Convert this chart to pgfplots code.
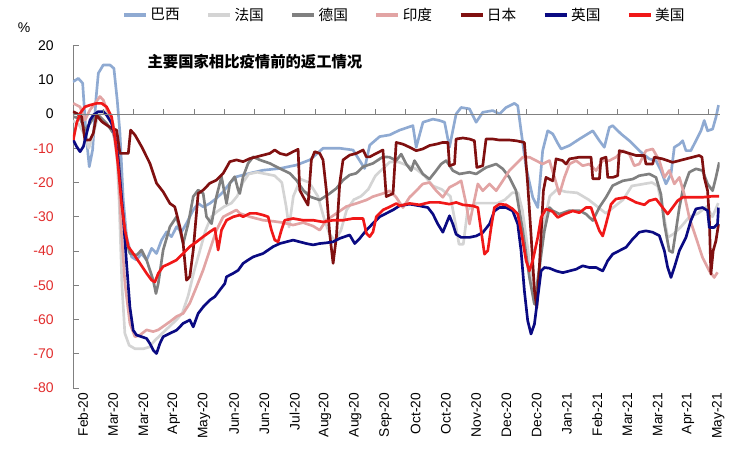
\documentclass[border=0pt]{standalone}
\usepackage{pgfplots}
\pgfplotsset{compat=1.18}
\usepackage{fontspec}
\setmainfont{Liberation Sans}
\newfontfamily\cjk{Noto Sans CJK SC}
\definecolor{cBR}{RGB}{143,170,210}
\definecolor{cFR}{RGB}{212,212,212}
\definecolor{cDE}{RGB}{128,128,128}
\definecolor{cIN}{RGB}{226,164,164}
\definecolor{cJP}{RGB}{128,16,16}
\definecolor{cUK}{RGB}{10,10,130}
\definecolor{cUS}{RGB}{240,24,24}
\definecolor{tickred}{RGB}{225,45,45}
\begin{document}
\begin{tikzpicture}
\begin{axis}[
  scale only axis, width=485pt, height=257pt,
  xmin=0, xmax=449, ymin=-80, ymax=20,
  axis y line*=left, axis x line*=bottom,
  x axis line style={draw=none},
  y axis line style={draw=gray, line width=0.6pt},
  tick align=inside, major tick length=4.5pt,
  ytick={-80,-70,-60,-50,-40,-30,-20,-10,0,10,20},
  yticklabels={{\textcolor{tickred}{-80}},{\textcolor{tickred}{-70}},{\textcolor{tickred}{-60}},{\textcolor{tickred}{-50}},{\textcolor{tickred}{-40}},{\textcolor{tickred}{-30}},{\textcolor{tickred}{-20}},{\textcolor{tickred}{-10}},0,10,20},
  ytick style={draw=gray, line width=0.6pt},
  yticklabel style={font=\fontsize{10.5}{12}\selectfont, xshift=-11pt},
  xtick={0,21,42,63,84,105,126,147,168,189,210,231,252,273,294,315,336,357,378,399,420,441},
  xticklabels={Feb-20,Mar-20,Mar-20,Apr-20,May-20,Jun-20,Jun-20,Jul-20,Aug-20,Aug-20,Sep-20,Oct-20,Oct-20,Nov-20,Dec-20,Dec-20,Jan-21,Feb-21,Mar-21,Mar-21,Apr-21,May-21},
  xtick style={draw=none},
  xticklabel style={rotate=90, anchor=east, font=\fontsize{10.3}{11}\selectfont, yshift=-7.5pt},
  /pgf/number format/assume math mode=true,
  every axis plot/.append style={line width=2pt, line join=round},
  legend columns=7,
  legend style={draw=none, fill=none, at={(axis description cs:0.0758,1.089)}, anchor=west,
    font=\cjk\fontsize{11}{12}\selectfont, inner sep=0pt,
    /tikz/every even column/.append style={column sep=18pt}},
  legend image code/.code={\draw[#1, line width=2.6pt] (0pt,0pt) -- (16.5pt,0pt);},
]
\addplot[cBR] coordinates {(0,9.4)(3.7,10.4)(6.7,9)(9,-5.6)(11.3,-15.4)(13.6,-10.5)(15.9,4.1)(17.6,11.9)(21,14.3)(25.7,14.3)(28.4,13.3)(30.7,4.1)(32.6,-5.6)(34.9,-25.1)(37.2,-35.8)(40.7,-41.7)(44.1,-42.6)(47.6,-40.7)(51.1,-42.6)(54.6,-39.2)(58,-40.7)(61.5,-36.8)(65,-34.4)(68.4,-35.8)(71.9,-32.9)(75.4,-34.4)(78.8,-31.9)(83.5,-28)(86.9,-26.1)(90.4,-27.1)(95,-26.1)(99.6,-24.6)(104.3,-22.7)(108.9,-20.2)(113.5,-18.3)(122.8,-17.3)(132,-16.4)(143.6,-15.9)(155.1,-14.9)(164.4,-13.4)(173.6,-10)(185.2,-10)(194.4,-10.5)(202.5,-15.9)(206,-9.1)(212.9,-6.6)(219.9,-6.1)(226.8,-4.7)(229,-4.4)(236,-3.4)(238.3,-9.7)(243,-2.4)(249.9,-1.5)(254.5,-1.9)(258,-2.4)(261.4,-9.7)(266,0)(269.5,1.9)(275.3,1.5)(279.9,-2.4)(284.5,0.5)(291.5,1)(296.1,0)(300.7,1.9)(306.5,3.1)(308.8,2.4)(311.1,-4.9)(314.6,-15.6)(319.2,-24.3)(322.7,-27.3)(326.1,-10.7)(329.6,-4.9)(333.1,-5.8)(336.5,-8.5)(338.9,-10.2)(344.7,-9.2)(351.6,-7.3)(360.9,-4.9)(365.5,-7.8)(368.9,-9.7)(372.4,-3.9)(374.7,-3.4)(380.5,-5.8)(386.3,-7.8)(393.2,-10.7)(400.1,-13.1)(404.8,-13.6)(408.2,-16.5)(411.7,-20.4)(415.2,-17.5)(417.5,-9.7)(421,-8.8)(423.3,-7.8)(425.6,-10.7)(429,-10.7)(432.5,-7.8)(436,-4.9)(438.3,-1.9)(440.6,-4.9)(444.1,-4.4)(446.4,-1)(448.2,2.6)};
\addlegendentry{巴西}
\addplot[cFR] coordinates {(0,-2)(4,-3)(8,-6)(11,-10)(14,-6)(17,-1)(21,1)(25,0)(28,-3)(30,-8)(32,-25)(34,-50)(36,-64)(39,-67.5)(43,-68.5)(49,-68.5)(53,-68)(57,-66)(62,-64)(67,-62)(72,-60)(76,-58)(80,-53)(84,-46)(88,-40)(92,-34)(96,-30)(100,-28.5)(105,-27)(110,-26)(114,-24)(118,-20)(122,-17.5)(128,-17)(134,-17.5)(140,-18)(145,-20)(148,-27)(150,-33)(153,-24)(158,-19)(164,-20)(170,-24)(174,-30)(178,-35)(182,-37)(186,-34)(190,-28)(195,-25)(200,-24)(205,-22)(210,-18)(215,-16)(220,-14)(226,-14)(232,-15)(238,-16)(244,-18)(250,-21)(256,-22)(262,-24)(266,-33)(268,-38)(271,-38)(274,-28)(280,-26)(288,-26)(295,-26)(300,-25)(305,-23)(309,-23)(312,-28)(316,-40)(320,-55)(323,-50)(327,-32)(331,-24)(336,-22)(342,-22.7)(350,-23)(358,-25)(364,-27)(370,-29)(376,-27)(382,-25)(388,-21)(395,-20.5)(402,-20)(406,-21)(409,-27)(413,-36)(417,-35)(422,-33)(428,-30)(434,-29)(440,-27)(444,-30)(448,-26)};
\addlegendentry{法国}
\addplot[cDE] coordinates {(0.2,-0.8)(4.9,-1.3)(8.3,-4.7)(11.8,-2.7)(15.3,-0.3)(18.7,-0.8)(23.3,-2.7)(28,-5.6)(31.4,-11.5)(33.7,-25.1)(36.1,-35.8)(39.5,-40.7)(44.1,-41.2)(47.6,-39.7)(51.1,-42.6)(55.7,-48.5)(57.6,-52.4)(59.2,-49.5)(62.6,-39.7)(67.3,-32.9)(71.9,-30)(76.5,-37.8)(80,-32)(83.5,-24.1)(86.9,-22.2)(90.4,-23.2)(92.7,-30)(96.2,-32)(99.6,-24.1)(103.1,-18.3)(106.6,-26.1)(108.9,-20.2)(112.3,-18.3)(114.7,-22.2)(115.8,-23.2)(118.1,-18.3)(121.6,-14.4)(125.1,-12.5)(129.7,-13.4)(136.6,-14.4)(143.6,-15.9)(150.5,-17.3)(155.1,-19.3)(159.8,-22.2)(164.4,-24.1)(171.3,-25.1)(178.2,-23.2)(182.9,-21.7)(187.5,-19.3)(192.1,-17.8)(196.7,-17.3)(201.4,-15.4)(208.3,-14.4)(215.2,-12.5)(219.8,-12.6)(224.4,-13.6)(227.9,-11.7)(231.4,-14.6)(234.8,-16.5)(237.1,-13.6)(242.9,-17.5)(247.5,-19)(252.2,-16.5)(255.6,-14.6)(259.1,-13.6)(263.7,-16.5)(268.3,-17.5)(275.3,-17)(279.9,-17.5)(286.8,-15.6)(293.8,-14.6)(298.4,-16)(303,-18.5)(307.6,-22.4)(312.3,-34.1)(316.9,-47.7)(320.4,-55.5)(323.8,-44.8)(327.3,-34.1)(330.8,-27.3)(333.1,-28.2)(337.7,-29.2)(344.7,-28.2)(351.6,-28.2)(356.2,-29.2)(360.9,-31.1)(365.5,-27.2)(370.1,-24.3)(374.7,-20.9)(381.7,-19.5)(388.6,-19)(393.2,-18)(400.1,-17.5)(404.8,-18.5)(408.2,-23.4)(410.6,-32.1)(414,-39.9)(416.3,-40.4)(418.6,-34.1)(421,-27.3)(423.3,-22.4)(427.9,-17)(432.5,-16)(437.1,-16.5)(440.6,-20.4)(444.1,-22.4)(446.4,-18.5)(448.7,-14.1)};
\addlegendentry{德国}
\addplot[cIN] coordinates {(0.2,3.1)(4.9,2.1)(8.3,-1.8)(11.8,1.2)(15.3,3.1)(18.7,5.1)(21,4.1)(24.5,0.2)(28,-4.7)(31.4,-15.4)(33.7,-34.8)(36.1,-49.5)(39.5,-61.1)(43,-65)(46.5,-64.5)(51.1,-63)(55.7,-63.5)(59.2,-63)(62.6,-62)(67.3,-60.6)(71.9,-59.1)(76.5,-58.2)(81.1,-55.2)(85.8,-50.4)(90.4,-45.5)(95,-39.7)(99.6,-33.9)(104.3,-30)(108.9,-29)(113.5,-28)(115.8,-29)(122.8,-30)(132,-31)(139,-31.3)(145.9,-31.7)(152.8,-32.4)(159.8,-31.7)(166.7,-32.7)(171.3,-33.9)(175.9,-31)(182.9,-29)(189.8,-27)(196.7,-26.1)(203.7,-25.1)(208.3,-24.1)(215.2,-23.2)(219.8,-22.4)(224.4,-24.3)(229.1,-27.3)(233.7,-24.3)(238.3,-22.4)(242.9,-20.4)(247.5,-20)(252.2,-22.4)(256.8,-24.3)(261.4,-21.4)(266,-20.4)(269.5,-19.5)(273,-26.3)(275.3,-32.1)(277.6,-27.3)(281.1,-20.4)(284.5,-22.4)(289.2,-20.4)(293.8,-22.4)(298.4,-19.5)(303,-16.5)(307.6,-14.6)(312.3,-12.6)(316.9,-12.6)(321.5,-13.6)(326.1,-14.6)(330.8,-13.6)(334.3,-18.5)(337.7,-23.4)(341.2,-18.5)(344.7,-14.6)(349.3,-13.6)(353.9,-15.1)(358.5,-14.6)(363.2,-16.5)(367.8,-13.6)(372.4,-13.6)(377,-12.6)(381.7,-10.7)(386.3,-11.7)(389.7,-15.1)(393.2,-14.6)(397.8,-10.7)(402.5,-10.2)(407.1,-13.6)(410.6,-18.5)(414,-16.5)(417.5,-20.4)(421,-18.5)(424.4,-23.4)(427.9,-30.2)(432.5,-36)(437.1,-41.9)(441.8,-45.8)(445.2,-47.7)(447.5,-46.2)};
\addlegendentry{印度}
\addplot[cJP] coordinates {(0,0.7)(2.5,0.2)(6,-0.8)(8.3,-7.6)(11.8,-7.6)(14.1,-5.6)(16.4,-0.3)(19.9,-2.2)(23.3,-3.2)(26.8,-4.2)(30.3,-4.7)(32.6,-11.5)(38.4,-11.5)(40,-4.7)(43,-6.1)(47.6,-9.5)(53.4,-14.4)(58,-20.2)(62.6,-22.7)(67.3,-26.1)(70.7,-27.1)(74.2,-32.9)(76.5,-37.8)(78.8,-48.5)(81.1,-47.5)(83.5,-39.7)(86.9,-23.2)(90.4,-22.2)(95,-20.2)(99.6,-19.3)(104.3,-17.3)(108.9,-13.9)(113.5,-13.4)(118.1,-13.9)(122.8,-13)(127.4,-12.5)(132,-12)(136.6,-11.5)(140.1,-10.5)(143.6,-11.5)(148.2,-12)(152.8,-11)(156.3,-10.3)(157.4,-22.2)(159.8,-24.1)(163.2,-26.6)(165.5,-13.4)(167.8,-11)(171.3,-11.5)(173.6,-13.4)(175.9,-22.2)(178.2,-34.8)(180.6,-43.6)(182.9,-35.8)(185.2,-20.2)(187.5,-13.4)(192.1,-12)(196.7,-11.5)(201.4,-10.5)(203.7,-12.5)(206,-12.5)(210.6,-11.5)(215.2,-10.5)(217.5,-24.1)(222.2,-23.2)(224.4,-8.3)(229.1,-8.8)(233.7,-9.7)(238.3,-10.7)(242.9,-10.2)(247.5,-9.2)(252.2,-8.8)(256.8,-8.3)(260.3,-8.3)(261.4,-15.1)(264.9,-14.6)(266,-7.3)(270.7,-7)(275.3,-7.3)(278.7,-7.8)(280.4,-15.6)(284.5,-15.1)(286.8,-7.3)(291.5,-7.3)(296.1,-7.6)(303,-7.6)(307.6,-7.8)(313.4,-8.3)(315.7,-20.4)(318,-35)(320.4,-51.6)(322,-56.5)(323.8,-44.8)(326.6,-22.4)(328.4,-18.5)(333.1,-19.5)(335.4,-13.1)(340,-13.6)(342.4,-14.6)(344.7,-13.1)(351.6,-12.6)(356.2,-12.6)(359.7,-12.6)(360.9,-18.9)(365.5,-18.9)(366.6,-13.1)(370.1,-12.6)(371.3,-18.5)(374.7,-18.5)(378.2,-18)(379.3,-10.7)(384,-11.2)(390.9,-12.1)(396.7,-12.1)(397.8,-14.6)(402.5,-14.6)(403.6,-12.6)(409.4,-13.1)(416.3,-14.1)(421,-13.6)(425.6,-13.1)(430.2,-12.6)(434.8,-12.1)(436.7,-12.6)(438.3,-18.5)(440.6,-22.4)(441.8,-30.2)(442.9,-46.7)(444.5,-39.9)(446.4,-37)(448.2,-32.1)};
\addlegendentry{日本}
\addplot[cUK] coordinates {(0.2,-7.6)(2.5,-9.5)(4.9,-11)(7.2,-9.5)(9.5,-5.6)(11.8,-1.8)(14.1,-0.3)(17.6,0.7)(21,0.7)(23.3,-0.3)(26.8,-2.7)(29.1,-6.6)(31.4,-13.4)(34.9,-30)(37.2,-43.6)(39.5,-56.3)(41.8,-63.1)(44.1,-64.5)(47.6,-65)(51.1,-65.5)(53.4,-67)(55.7,-68.9)(58,-69.9)(60.3,-67)(62.6,-65)(67.3,-64)(71.9,-63.1)(76.5,-61.1)(81.1,-60.1)(83.5,-62.1)(86.9,-58.2)(90.4,-56.3)(95,-54.3)(98.5,-53.3)(101.9,-51.4)(105.4,-49.5)(106.6,-47.5)(111.2,-46.5)(114.7,-45.6)(118.1,-43.6)(121.6,-42.6)(125.1,-41.7)(128.5,-41.2)(132,-40.7)(135.5,-39.7)(139,-38.7)(143.6,-37.8)(148.2,-37.3)(152.8,-36.8)(157.4,-37.3)(162,-37.8)(166.7,-38.2)(171.3,-37.8)(175.9,-37.6)(180.6,-37.3)(185.2,-36.3)(192.1,-35.3)(195.6,-37.8)(199.1,-36.3)(203.7,-33.9)(208.3,-31.9)(212.9,-30)(217.5,-29)(222.2,-28)(226.7,-26.8)(233.7,-26.3)(240.6,-26.8)(246.4,-27.3)(249.9,-29.2)(253.3,-32.1)(256.8,-34.5)(259.1,-32.1)(261.4,-29.7)(263.7,-32.1)(266,-35.1)(269.5,-36)(275.3,-36)(279.9,-35.6)(284.5,-34.6)(289.2,-32.1)(292.6,-28.3)(296.1,-27.3)(300.7,-27.3)(305.3,-28.3)(308.8,-32.1)(311.1,-39.9)(313.4,-51.6)(315.7,-60.3)(318,-64.2)(320.4,-61.3)(322.7,-53.5)(325,-45.8)(327.3,-44.8)(330.8,-45)(335.4,-45.8)(340,-46.3)(344.7,-45.8)(349.3,-45.3)(353.9,-44.3)(358.5,-44.8)(363.2,-44.8)(367.8,-45.8)(371.3,-42.8)(374.7,-40.9)(379.3,-39.9)(384,-38.9)(388.6,-36.5)(393.2,-34.5)(397.8,-34.1)(402.5,-34.5)(407.1,-35.5)(410.6,-39.9)(412.9,-44.8)(415.2,-47.7)(417.5,-44.8)(421,-39.9)(425.6,-36)(429,-31.1)(432.5,-27.7)(437.1,-27.3)(440.6,-28.2)(441.8,-33.1)(445.2,-33.1)(447.5,-32.1)(448.2,-27.3)};
\addlegendentry{英国}
\addplot[cUS] coordinates {(0.2,-7.6)(2.5,-2.7)(4.9,0.2)(8.3,2.1)(11.8,2.6)(16.4,3.1)(19.9,3.1)(23.3,2.1)(26.8,-0.8)(29.1,-6.6)(31.4,-15.4)(33.7,-26.1)(36.1,-33.9)(38.4,-38.7)(41.8,-40.7)(46.5,-43.6)(51.1,-46.5)(54.6,-48.5)(56.9,-49)(59.2,-46.5)(62.6,-44.5)(67.3,-43.6)(71.9,-42.6)(76.5,-40.7)(81.1,-38.7)(85.8,-37.3)(90.4,-35.8)(95,-34.4)(98.5,-33.4)(100.8,-39.7)(103.1,-33.9)(106.6,-31)(111.2,-30)(115.8,-29.5)(118.1,-30)(122.8,-29)(127.4,-29)(132,-29.5)(135.5,-30)(137.8,-33.9)(140.1,-36.8)(142.4,-37.3)(144.7,-33.9)(147,-31)(152.8,-30.5)(159.8,-31)(166.7,-31)(173.6,-31.5)(180.6,-31)(187.5,-31)(194.4,-30.5)(201.4,-30.5)(203.7,-34.8)(206,-35.8)(208.3,-34.4)(210.6,-30)(215.2,-28)(219.9,-27.1)(224.5,-26.1)(226.7,-26.8)(233.7,-26.1)(240.6,-26.5)(247.5,-25.8)(254.5,-25.8)(261.4,-26.3)(266,-25.8)(270.7,-26.5)(277.6,-26.8)(281.1,-27.3)(283.4,-34.1)(285.7,-40.9)(288,-39.9)(290.3,-33.1)(292.6,-27.3)(296.1,-26.3)(300.7,-26.5)(305.3,-27.7)(308.8,-29.2)(311.1,-34.1)(314.6,-42.8)(316.9,-45.8)(319.2,-42.8)(322.7,-36)(325,-30.2)(328.4,-27.7)(333.1,-28.5)(336.6,-30.2)(341.2,-29.2)(347,-28.3)(351.6,-28.8)(356.2,-27.3)(359.7,-27.3)(362,-30.2)(365.5,-34.1)(367.8,-35.6)(370.1,-32.1)(373.6,-26.3)(377,-24.8)(384,-24.3)(390.9,-25.8)(396.7,-26.5)(400.1,-25.3)(404.8,-24.8)(409.4,-27.3)(412.9,-29.2)(416.3,-27.3)(419.8,-25.3)(423.3,-24.3)(430.2,-24.3)(437.1,-24.3)(444.1,-24)(448.7,-24)};
\addlegendentry{美国}
\end{axis}
% zero line with upward ticks
\draw[gray, line width=0.6pt] (0pt,205.6pt) -- (485pt,205.6pt);
\foreach \i in {1,...,21} {\draw[gray, line width=0.6pt] ({\i*22.6837pt},205.6pt) -- ++(0pt,3.5pt);}
\node[font=\fontsize{10.5}{12}\selectfont] at (-36.75pt,270.1pt) {\%};
\node[font=\cjk\bfseries\fontsize{11.5}{13}\selectfont] at (136.5pt,244.6pt) {主要国家相比疫情前的返工情况};
\pgfresetboundingbox
\path[use as bounding box] (-54.75pt,-55.5pt) rectangle (501.75pt,291.1pt);
\end{tikzpicture}
\end{document}
